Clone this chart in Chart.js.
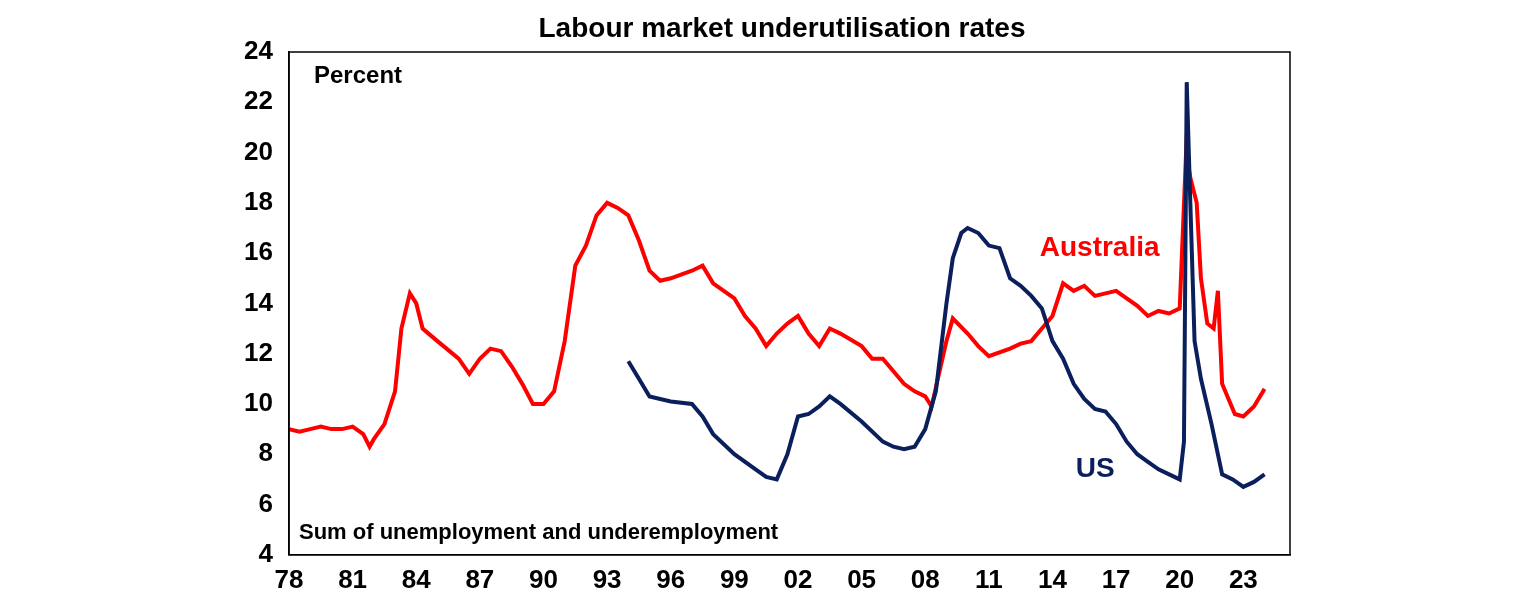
<!DOCTYPE html>
<html>
<head>
<meta charset="utf-8">
<script src="https://cdn.jsdelivr.net/npm/chart.js@4"></script>
<style>
  html, body { margin: 0; padding: 0; background: #fff; }
  #wrap { width: 1536px; height: 602px; }
</style>
</head>
<body>
<div id="wrap"><canvas id="myChart" width="1536" height="602"></canvas></div>
<script>
// Australia: underutilisation rate, year (decimal) / percent
let ausYears = [1978, 1978.5, 1979, 1979.5, 1980, 1980.5, 1981, 1981.5, 1981.8, 1982, 1982.5, 1983, 1983.3, 1983.7, 1984, 1984.3, 1985, 1986, 1986.5, 1987, 1987.5, 1988, 1988.5, 1989, 1989.5, 1990, 1990.5, 1991, 1991.5, 1992, 1992.5, 1993, 1993.5, 1994, 1994.5, 1995, 1995.5, 1996, 1997, 1997.5, 1998, 1999, 1999.5, 2000, 2000.5, 2001, 2001.5, 2002, 2002.5, 2003, 2003.5, 2004, 2005, 2005.5, 2006, 2006.5, 2007, 2007.5, 2008, 2008.3, 2009, 2009.3, 2010, 2010.5, 2011, 2012, 2012.5, 2013, 2013.5, 2014, 2014.5, 2015, 2015.5, 2016, 2016.5, 2017, 2017.5, 2018, 2018.5, 2019, 2019.5, 2020, 2020.3, 2020.5, 2020.8, 2021, 2021.3, 2021.6, 2021.8, 2022, 2022.3, 2022.6, 2023, 2023.5, 2024];
let ausValues = [9.0, 8.9, 9.0, 9.1, 9.0, 9.0, 9.1, 8.8, 8.3, 8.6, 9.2, 10.5, 13.0, 14.4, 14.0, 13.0, 12.5, 11.8, 11.2, 11.8, 12.2, 12.1, 11.5, 10.8, 10.0, 10.0, 10.5, 12.5, 15.5, 16.3, 17.5, 18.0, 17.8, 17.5, 16.5, 15.3, 14.9, 15.0, 15.3, 15.5, 14.8, 14.2, 13.5, 13.0, 12.3, 12.8, 13.2, 13.5, 12.8, 12.3, 13.0, 12.8, 12.3, 11.8, 11.8, 11.3, 10.8, 10.5, 10.3, 9.9, 12.5, 13.4, 12.8, 12.3, 11.9, 12.2, 12.4, 12.5, 13.0, 13.5, 14.8, 14.5, 14.7, 14.3, 14.4, 14.5, 14.2, 13.9, 13.5, 13.7, 13.6, 13.8, 20.0, 19.0, 18.0, 15.0, 13.2, 13.0, 14.5, 10.8, 10.2, 9.6, 9.5, 9.9, 10.6];

// US: U-6 rate
let usYears = [1994, 1994.5, 1995, 1996, 1997, 1997.5, 1998, 1999, 2000, 2000.5, 2001, 2001.5, 2002, 2002.5, 2003, 2003.5, 2004, 2005, 2006, 2006.5, 2007, 2007.5, 2008, 2008.5, 2009, 2009.3, 2009.7, 2010, 2010.5, 2011, 2011.5, 2012, 2012.5, 2013, 2013.5, 2014, 2014.5, 2015, 2015.5, 2016, 2016.5, 2017, 2017.5, 2018, 2018.5, 2019, 2019.5, 2020, 2020.2, 2020.33, 2020.5, 2020.7, 2021, 2021.5, 2022, 2022.5, 2023, 2023.5, 2024];
let usValues = [11.7, 11.0, 10.3, 10.1, 10.0, 9.5, 8.8, 8.0, 7.4, 7.1, 7.0, 8.0, 9.5, 9.6, 9.9, 10.3, 10.0, 9.3, 8.5, 8.3, 8.2, 8.3, 9.0, 10.5, 14.0, 15.8, 16.8, 17.0, 16.8, 16.3, 16.2, 15.0, 14.7, 14.3, 13.8, 12.5, 11.8, 10.8, 10.2, 9.8, 9.7, 9.2, 8.5, 8.0, 7.7, 7.4, 7.2, 7.0, 8.5, 22.8, 18.0, 12.5, 11.0, 9.2, 7.2, 7.0, 6.7, 6.9, 7.2];

let xTickYears = [1978, 1981, 1984, 1987, 1990, 1993, 1996, 1999, 2002, 2005, 2008, 2011, 2014, 2017, 2020, 2023];

const FONT = 'Liberation Sans, Arial, sans-serif';

function toPoints(xs, ys) {
    return xs.map((x, i) => ({ x: x, y: ys[i] }));
}

const labelsPlugin = {
    id: 'labels',
    afterDraw(chart) {
        const ctx = chart.ctx;
        const a = chart.chartArea;
        const x = chart.scales.x, y = chart.scales.y;
        ctx.save();
        ctx.strokeStyle = '#000';
        ctx.lineWidth = 1.5;
        ctx.strokeRect(a.left, a.top, a.right - a.left, a.bottom - a.top);
        ctx.fillStyle = '#000';
        ctx.textAlign = 'center';
        ctx.textBaseline = 'middle';
        ctx.font = 'bold 28px ' + FONT;
        ctx.fillText('Labour market underutilisation rates', 782, 29);
        ctx.textAlign = 'left';
        ctx.font = 'bold 24px ' + FONT;
        ctx.fillText('Percent', a.left + 25, a.top + 24);
        ctx.font = 'bold 22px ' + FONT;
        ctx.fillText('Sum of unemployment and underemployment', a.left + 10, a.bottom - 22);
        ctx.font = 'bold 28px ' + FONT;
        ctx.fillStyle = '#ff0000';
        ctx.fillText('Australia', x.getPixelForValue(2013.4), y.getPixelForValue(16.2));
        ctx.fillStyle = '#0a1f5c';
        ctx.fillText('US', x.getPixelForValue(2015.1), y.getPixelForValue(7.4));
        ctx.restore();
    }
};

let chartElement = document.getElementById('myChart').getContext('2d');

let myChart = new Chart(chartElement, {
    type: 'line',
    data: {
        datasets: [{
            label: 'US',
            data: toPoints(usYears, usValues),
            borderColor: '#0a1f5c',
            borderWidth: 4,
            pointRadius: 0,
            tension: 0
        }, {
            label: 'Australia',
            data: toPoints(ausYears, ausValues),
            borderColor: '#ff0000',
            borderWidth: 4,
            pointRadius: 0,
            tension: 0
        }]
    },
    options: {
        responsive: false,
        animation: false,
        layout: { padding: { top: 52, right: 246, bottom: 4, left: 0 } },
        plugins: {
            legend: { display: false },
            tooltip: { enabled: false },
            title: { display: false }
        },
        scales: {
            x: {
                type: 'linear',
                min: 1978,
                max: 2025.2,
                afterBuildTicks(scale) {
                    scale.ticks = xTickYears.map(v => ({ value: v }));
                },
                grid: { display: false, drawTicks: true, tickLength: 8, color: '#000' },
                border: { display: true, color: '#000', width: 1.5 },
                ticks: {
                    color: '#000',
                    font: { family: FONT, size: 26, weight: 'bold' },
                    maxRotation: 0,
                    autoSkip: false,
                    padding: 2,
                    callback: v => String(v % 100).padStart(2, '0')
                }
            },
            y: {
                min: 4,
                max: 24,
                afterFit(scale) { scale.width = 289; },
                grid: { display: false, drawTicks: true, tickLength: 8, color: '#000' },
                border: { display: true, color: '#000', width: 1.5 },
                ticks: {
                    stepSize: 2,
                    color: '#000',
                    font: { family: FONT, size: 26, weight: 'bold' },
                    padding: 8
                }
            }
        }
    },
    plugins: [labelsPlugin]
});
</script>
</body>
</html>
